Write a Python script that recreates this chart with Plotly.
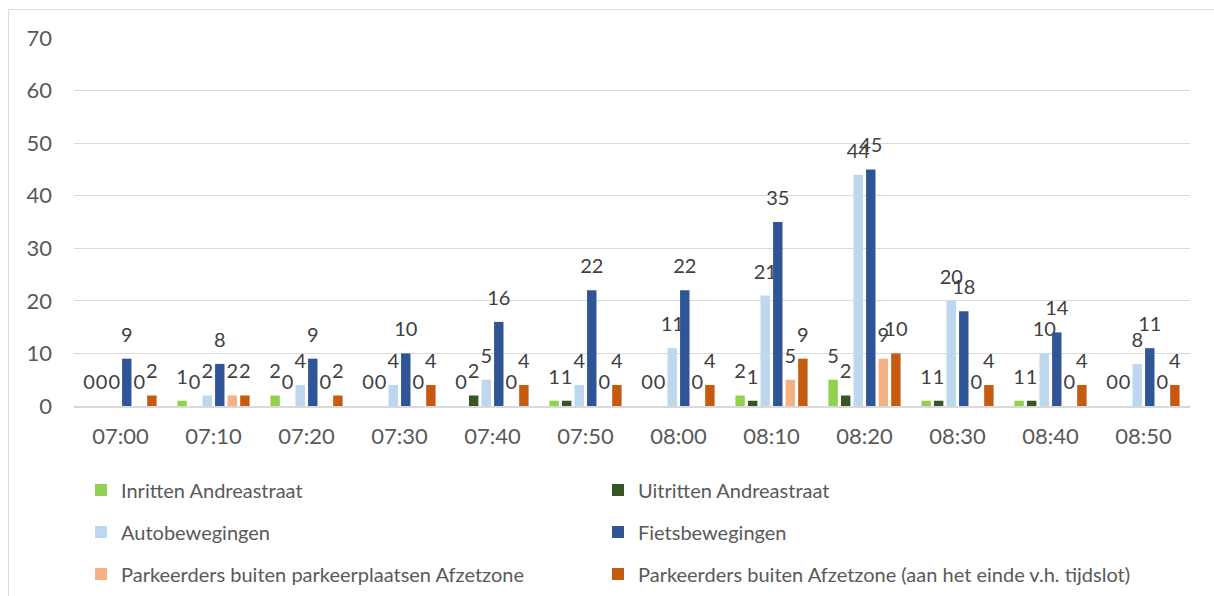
import plotly.graph_objects as go

# Tijdsloten (10 minuten)
tijdsloten = ["07:00", "07:10", "07:20", "07:30", "07:40", "07:50",
              "08:00", "08:10", "08:20", "08:30", "08:40", "08:50"]

inritten_andreastraat = [0, 1, 2, 0, 0, 1, 0, 2, 5, 1, 1, 0]
uitritten_andreastraat = [0, 0, 0, 0, 2, 1, 0, 1, 2, 1, 1, 0]
autobewegingen = [0, 2, 4, 4, 5, 4, 11, 21, 44, 20, 10, 8]
fietsbewegingen = [9, 8, 9, 10, 16, 22, 22, 35, 45, 18, 14, 11]
parkeerders_parkeerplaatsen = [0, 2, 0, 0, 0, 0, 0, 5, 9, 0, 0, 0]
parkeerders_afzetzone = [2, 2, 2, 4, 4, 4, 4, 9, 10, 4, 4, 4]

reeksen = [
    ("Inritten Andreastraat", inritten_andreastraat, "#92D050"),
    ("Uitritten Andreastraat", uitritten_andreastraat, "#375623"),
    ("Autobewegingen", autobewegingen, "#BDD7EE"),
    ("Fietsbewegingen", fietsbewegingen, "#2F5597"),
    ("Parkeerders buiten parkeerplaatsen Afzetzone", parkeerders_parkeerplaatsen, "#F4B183"),
    ("Parkeerders buiten Afzetzone (aan het einde v.h. tijdslot)", parkeerders_afzetzone, "#C55A11"),
]

FONT = "Lato, 'Open Sans', sans-serif"
W, H = 1214, 596
ML, MR, MT, MB = 74, 24, 38, 190
PW, PH = W - ML - MR, H - MT - MB


def px_x(x):
    return (x - ML) / PW


def px_y(y):
    return (H - MB - y) / PH


# a tall hair space on both sides lifts the value label a little above the bar
SPACER = '<span style="font-size:64px">\u200a</span>'


def label(v):
    return f"{SPACER}{v}{SPACER}"


# legend grid: two columns, three rows (pixel positions of each entry)
legend_cols = [81, 598]
legend_rows = [490, 532, 574]

fig = go.Figure()
legends = {}
for i, (naam, waarden, kleur) in enumerate(reeksen):
    key = "legend" if i == 0 else f"legend{i + 1}"
    fig.add_trace(go.Bar(
        name=naam,
        x=tijdsloten,
        y=waarden,
        marker=dict(color=kleur, line=dict(width=0)),
        text=[label(v) for v in waarden],
        textposition="outside",
        textfont=dict(family=FONT, size=20, color="#404040"),
        constraintext="none",
        cliponaxis=False,
        legend=key,
    ))
    legends[key] = dict(
        orientation="h",
        xanchor="left",
        yanchor="middle",
        x=px_x(legend_cols[i % 2]),
        y=px_y(legend_rows[i // 2]),
        font=dict(family=FONT, size=20, color="#595959"),
        bgcolor="rgba(0,0,0,0)",
        itemclick=False,
        itemdoubleclick=False,
    )

fig.update_layout(
    width=W,
    height=H,
    margin=dict(l=ML, r=MR, t=MT, b=MB, pad=0, autoexpand=False),
    paper_bgcolor="white",
    plot_bgcolor="white",
    barmode="group",
    bargap=0.19,
    bargroupgap=0.25,
    showlegend=True,
    xaxis=dict(
        type="category",
        showgrid=False,
        showline=True,
        linecolor="#D9D9D9",
        linewidth=2,
        ticks="",
        tickfont=dict(family=FONT, size=22, color="#595959"),
        ticklabelstandoff=10,
        zeroline=False,
    ),
    yaxis=dict(
        range=[0, 70],
        dtick=10,
        showgrid=True,
        gridcolor="#D9D9D9",
        gridwidth=1,
        zeroline=False,
        showline=False,
        ticks="",
        tickfont=dict(family=FONT, size=22, color="#595959"),
        ticklabelstandoff=21,
    ),
    shapes=[
        dict(type="line", xref="paper", yref="paper",
             x0=px_x(8.5), x1=px_x(W + 2), y0=px_y(9.5), y1=px_y(9.5),
             line=dict(color="#D9D9D9", width=1)),
        dict(type="line", xref="paper", yref="paper",
             x0=px_x(8.5), x1=px_x(8.5), y0=px_y(9.5), y1=px_y(H + 2),
             line=dict(color="#D9D9D9", width=1)),
    ],
    **legends,
)

fig.write_html("out.html")
